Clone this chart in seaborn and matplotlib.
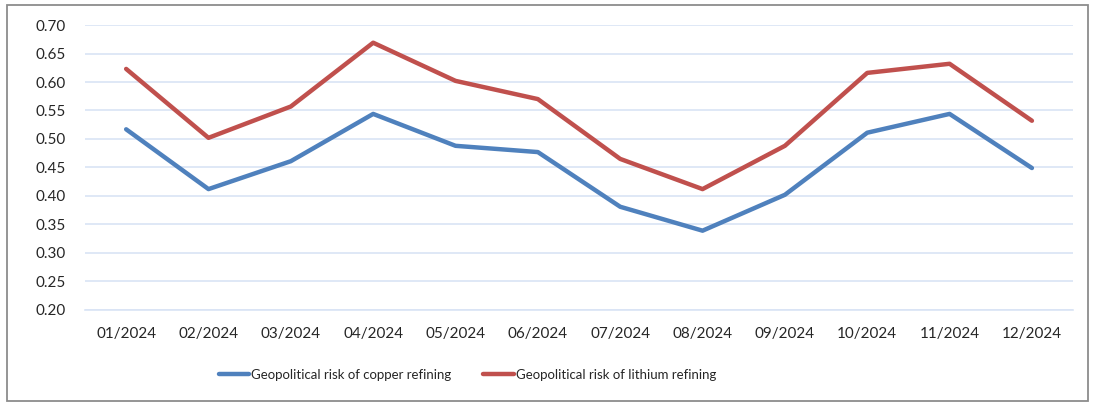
import numpy as np
import pandas as pd
import matplotlib
matplotlib.use("Agg")
import matplotlib.pyplot as plt
import seaborn as sns
from matplotlib.patches import Rectangle

# values
months = ["01/2024", "02/2024", "03/2024", "04/2024", "05/2024", "06/2024",
          "07/2024", "08/2024", "09/2024", "10/2024", "11/2024", "12/2024"]
copper = [0.517, 0.412, 0.461, 0.544, 0.488, 0.477, 0.381, 0.339, 0.402, 0.511, 0.544, 0.449]
lithium = [0.623, 0.502, 0.557, 0.669, 0.602, 0.570, 0.465, 0.412, 0.488, 0.616, 0.632, 0.532]
series_names = ["Geopolitical risk of copper refining", "Geopolitical risk of lithium refining"]
yticks = [0.20, 0.25, 0.30, 0.35, 0.40, 0.45, 0.50, 0.55, 0.60, 0.65, 0.70]

data = pd.DataFrame({
    "month": months * 2,
    "pos": list(range(len(months))) * 2,
    "risk": copper + lithium,
    "series": [series_names[0]] * len(months) + [series_names[1]] * len(months),
})

sns.set_style("white")
plt.rcParams["font.family"] = ["Lato", "DejaVu Sans"]

fig = plt.figure(figsize=(10.95, 4.04), dpi=100)
ax = fig.add_axes([0.0776, 0.233, 0.9024, 0.705])

sns.lineplot(data=data, x="pos", y="risk", hue="series", ax=ax,
             palette=["#4F81BD", "#C0504D"], linewidth=3.2, legend=False,
             solid_capstyle="round", solid_joinstyle="round")

ax.set_xlim(-0.5, len(months) - 0.5)
ax.set_ylim(yticks[0], yticks[-1])
ax.set_yticks(yticks)
ax.set_yticklabels([f"{t:.2f}" for t in yticks])
ax.set_xticks(range(len(months)))
ax.set_xticklabels(months)
ax.set_xticks(np.arange(-0.5, len(months), 1.0), minor=True)
ax.tick_params(axis="x", which="major", length=0, pad=12, labelsize=11, colors="#262626")
ax.tick_params(axis="x", which="minor", length=6, width=1.2, color="#D9E4F5")
ax.tick_params(axis="y", length=0, pad=14, labelsize=11, colors="#262626")
ax.set_xlabel("")
ax.set_ylabel("")

ax.yaxis.grid(True, color="#D9E4F5", linewidth=1.2)
ax.set_axisbelow(True)
for side in ["left", "right", "top"]:
    ax.spines[side].set_visible(False)
ax.spines["bottom"].set_color("#D9E4F5")
ax.spines["bottom"].set_linewidth(1.2)

handles = [plt.Line2D([], [], color=c, linewidth=3.2, solid_capstyle="round")
           for c in ["#4F81BD", "#C0504D"]]
fig.legend(handles, series_names, loc="center", bbox_to_anchor=(0.427, 0.072),
           ncol=2, frameon=False, handlelength=2.3,
           handletextpad=0.15, columnspacing=2.4,
           prop={"family": "Lato", "size": 9.5})

fig.patches.append(Rectangle((0.006, 0.008), 0.988, 0.98, transform=fig.transFigure,
                             fill=False, edgecolor="#8C8C8C", linewidth=1.3))

fig.savefig("out.png", dpi=100)
